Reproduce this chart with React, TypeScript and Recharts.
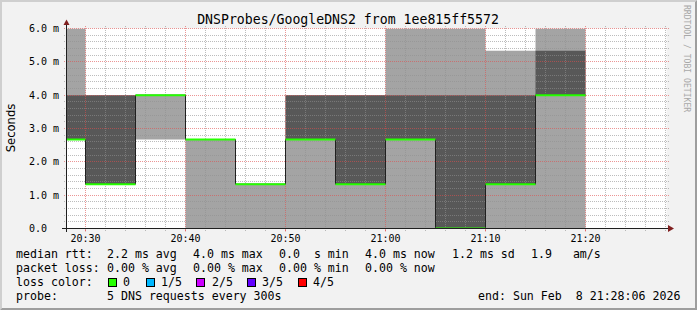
import React from 'react';
import { ComposedChart, Area, Line, XAxis, YAxis } from 'recharts';

// ---- data (times are minutes after 20:00) ----
const title = 'DNSProbes/GoogleDNS2 from 1ee815ff5572';
const stepStarts = [28.1, 30, 35, 40, 45, 50, 55, 60, 65, 70, 75];
const lastStepEnd = 80;
const pingMin = [2.67, 1.33, 2.67, 0, 0, 0, 0, 0, 0, 0, 0];
const pingLow = [2.67, 1.33, 4.0, 2.67, 1.33, 2.67, 1.33, 2.67, 0, 1.33, 4.0];
const median = [2.67, 1.33, 4.0, 2.67, 1.33, 2.67, 1.33, 2.67, 0, 1.33, 4.0];
const pingHigh = [4.0, 4.0, 4.0, 2.67, 1.33, 4.0, 4.0, 4.0, 4.0, 4.0, 5.33];
const pingMax = [6.0, 4.0, 4.0, 2.67, 1.33, 4.0, 4.0, 6.0, 6.0, 5.33, 6.0];

const xDomain = [28.1, 88.1];
const yDomain = [0, 6];
const xTicks = [30, 40, 50, 60, 70, 80];
const xTickLabels = ['20:30', '20:40', '20:50', '21:00', '21:10', '21:20'];
const yTicks = [0, 1, 2, 3, 4, 5, 6];
const yTickLabels = ['0.0', '1.0 m', '2.0 m', '3.0 m', '4.0 m', '5.0 m', '6.0 m'];

const rttLegend = ['2.2 ms avg', '4.0 ms max', '0.0  s min', '4.0 ms now', '1.2 ms sd', '1.9   am/s'];
const lossLegend = ['0.00 % avg', '0.00 % max', '0.00 % min', '0.00 % now'];
const lossColorLabels = ['0', '1/5', '2/5', '3/5', '4/5'];
const lossColorValues = ['#26ff00', '#00b8ff', '#cc00ff', '#6200ff', '#ff0000'];
const probeText = '5 DNS requests every 300s';
const endText = 'end: Sun Feb  8 21:28:06 2026';

// ---- derived table ----
const allTimes = [...stepStarts, lastStepEnd];
const rows = allTimes.map((t, i) => {
  const k = Math.min(i, median.length - 1);
  const row: any = {
    t,
    smoke: [pingMin[k], pingMax[k]],
    core: [pingLow[k], pingHigh[k]],
    median: median[k],
  };
  row['g' + k] = median[k];
  if (i > 0) row['g' + (i - 1)] = median[i - 1];
  return row;
});

// ---- geometry (plot frame) ----
const W = 697;
const H = 310;
const PLOT_L = 66.5;
const PLOT_T = 28.5;
const PLOT_W = 600;
const PLOT_H = 200;
const PLOT_B = PLOT_T + PLOT_H;

// grid decoration (drawn on top of the smoke, like rrdtool)
const hGrid: number[] = [];
for (let i = 1; i <= 30; i++) hGrid.push(Math.round(i * 0.2 * 10) / 10);
const vGrid: number[] = [];
for (let m = 30; m <= 88; m += 2) vGrid.push(m);
const gx = (m: number) => Math.floor(PLOT_L + ((m - xDomain[0]) / (xDomain[1] - xDomain[0])) * PLOT_W);
const gy = (v: number) => Math.floor(PLOT_B - ((v - yDomain[0]) / (yDomain[1] - yDomain[0])) * PLOT_H);

const MONO = '"DejaVu Sans Mono", monospace';
const minorColor = 'rgba(143,143,143,0.6)';
const majorColor = 'rgba(222,79,79,0.6)';

const keep = (s: string) => s.replace(/ /g, '\u00A0');

const XTick = (props: any) => {
  const { x, y, payload } = props;
  const idx = xTicks.indexOf(payload.value);
  return (
    <text x={x} y={y} dy={8.5} textAnchor="middle" fontFamily={MONO} fontSize={10} fill="#000">
      {xTickLabels[idx]}
    </text>
  );
};

const YTick = (props: any) => {
  const { x, y, payload } = props;
  const idx = yTicks.indexOf(payload.value);
  return (
    <text x={x - 37.5} y={y} dy={3.5} textAnchor="start" fontFamily={MONO} fontSize={10} fill="#000">
      {keep(yTickLabels[idx])}
    </text>
  );
};

const legendX = [107, 193, 279, 365, 452, 531];
const squareX = [108, 146, 196, 247, 298];
const squareLabelX = [123, 161, 212, 262, 313];

const layer: React.CSSProperties = { position: 'absolute', left: 0, top: 0 };

export default function App() {
  const isMajorH = (v: number) => Math.abs(v - Math.round(v)) < 1e-6;
  return (
    <div style={{ position: 'absolute', left: 0, top: 0, width: W, height: H }}>
      {/* background, title, legend */}
      <svg width={W} height={H} style={layer}>
        <rect x={0} y={0} width={W} height={H} fill="#f2f2f2" />
        <polygon points="0,0 697,0 695,2 2,2 2,308 0,310" fill="#cfcfcf" />
        <polygon points="697,0 697,310 0,310 2,308 695,308 695,2" fill="#9e9e9e" />
        <rect x={PLOT_L} y={PLOT_T} width={PLOT_W} height={PLOT_H} fill="#ffffff" />
        <text x={348} y={24} textAnchor="middle" fontFamily={MONO} fontSize={13.2} fill="#000">{title}</text>
        <text x={15} y={128} transform="rotate(-90 15 128)" textAnchor="middle" fontFamily='"DejaVu Sans", sans-serif' fontSize={11.6} fill="#000">Seconds</text>
        <text x={684} y={5} transform="rotate(90 684 5)" textAnchor="start" fontFamily={MONO} fontSize={8.1} fill="#a8a8a8">RRDTOOL / TOBI OETIKER</text>
        <g fontFamily={MONO} fontSize={11.6} fill="#000">
          <text x={16} y={258}>{keep('median rtt:')}</text>
          {rttLegend.map((s, i) => (
            <text key={'r' + i} x={legendX[i]} y={258}>{keep(s)}</text>
          ))}
          <text x={16} y={272}>{keep('packet loss:')}</text>
          {lossLegend.map((s, i) => (
            <text key={'l' + i} x={legendX[i]} y={272}>{keep(s)}</text>
          ))}
          <text x={16} y={286}>{keep('loss color:')}</text>
          {lossColorLabels.map((s, i) => (
            <g key={'c' + i}>
              <rect x={squareX[i] + 0.5} y={278.5} width={8} height={8} fill={lossColorValues[i]} stroke="#000" strokeWidth={1} />
              <text x={squareLabelX[i]} y={286}>{s}</text>
            </g>
          ))}
          <text x={16} y={300}>{keep('probe:')}</text>
          <text x={107} y={300}>{keep(probeText)}</text>
          <text x={478} y={300}>{keep(endText)}</text>
        </g>
      </svg>

      {/* smoke areas + tick labels */}
      <div style={layer}>
        <ComposedChart width={W} height={H} data={rows} margin={{ top: PLOT_T, right: W - PLOT_L - PLOT_W, bottom: 61.5, left: 0.5 }}>
          <XAxis
            dataKey="t"
            type="number"
            domain={xDomain}
            ticks={xTicks}
            allowDataOverflow
            interval={0}
            height={20}
            axisLine={false}
            tickLine={{ stroke: majorColor }}
            tickSize={3}
            tickMargin={2}
            tick={<XTick />}
          />
          <YAxis
            type="number"
            domain={yDomain}
            ticks={yTicks}
            allowDataOverflow
            width={66}
            axisLine={false}
            tickLine={false}
            tickSize={0}
            tickMargin={0}
            tick={<YTick />}
          />
          <Area dataKey="smoke" type="stepAfter" fill="#a4a4a4" fillOpacity={1} stroke="none" isAnimationActive={false} dot={false} activeDot={false} />
          <Area dataKey="core" type="stepAfter" fill="#585858" fillOpacity={1} stroke="none" isAnimationActive={false} dot={false} activeDot={false} />
        </ComposedChart>
      </div>

      {/* dotted grid over the smoke */}
      <svg width={W} height={H} style={{ ...layer, pointerEvents: 'none' }}>
        <defs>
          <pattern id="hMinor" x={0} y={0} width={2} height={1} patternUnits="userSpaceOnUse">
            <rect x={0} y={0} width={1} height={1} fill={minorColor} />
          </pattern>
          <pattern id="hMajor" x={0} y={0} width={2} height={1} patternUnits="userSpaceOnUse">
            <rect x={0} y={0} width={1} height={1} fill={majorColor} />
          </pattern>
          <pattern id="vMinor" x={0} y={0} width={1} height={2} patternUnits="userSpaceOnUse">
            <rect x={0} y={0} width={1} height={1} fill={minorColor} />
          </pattern>
          <pattern id="vMajor" x={0} y={0} width={1} height={2} patternUnits="userSpaceOnUse">
            <rect x={0} y={0} width={1} height={1} fill={majorColor} />
          </pattern>
        </defs>
        {hGrid.map((v) => (
          <rect key={'h' + v} x={64} y={gy(v)} width={605} height={1} fill={isMajorH(v) ? 'url(#hMajor)' : 'url(#hMinor)'} />
        ))}
        {vGrid.map((m) => (
          <rect key={'v' + m} x={gx(m)} y={26} width={1} height={206} fill={m % 10 === 0 ? 'url(#vMajor)' : 'url(#vMinor)'} />
        ))}
      </svg>

      {/* median line on top */}
      <div style={layer}>
        <ComposedChart width={W} height={H} data={rows} margin={{ top: PLOT_T, right: W - PLOT_L - PLOT_W, bottom: H - PLOT_B, left: PLOT_L }}>
          <XAxis dataKey="t" type="number" domain={xDomain} allowDataOverflow hide />
          <YAxis type="number" domain={yDomain} allowDataOverflow hide />
          <Line dataKey="median" type="stepAfter" stroke="#202020" strokeWidth={1} dot={false} activeDot={false} isAnimationActive={false} />
          {median.map((_, i) => (
            <Line key={'g' + i} dataKey={'g' + i} type="linear" stroke={lossColorValues[0]} strokeWidth={2} dot={false} activeDot={false} isAnimationActive={false} connectNulls={false} />
          ))}
        </ComposedChart>
      </div>

      {/* axes with arrows */}
      <svg width={W} height={H} style={{ ...layer, pointerEvents: 'none' }}>
        <line x1={62} y1={228.5} x2={669} y2={228.5} stroke="#1f1f1f" strokeWidth={1} />
        <line x1={66.5} y1={232} x2={66.5} y2={23} stroke="#1f1f1f" strokeWidth={1} />
        <polygon points="668,225 668,232 674,228.5" fill="#801f1f" />
        <polygon points="63.5,25 69.5,25 66.5,19.5" fill="#801f1f" />
      </svg>
    </div>
  );
}
